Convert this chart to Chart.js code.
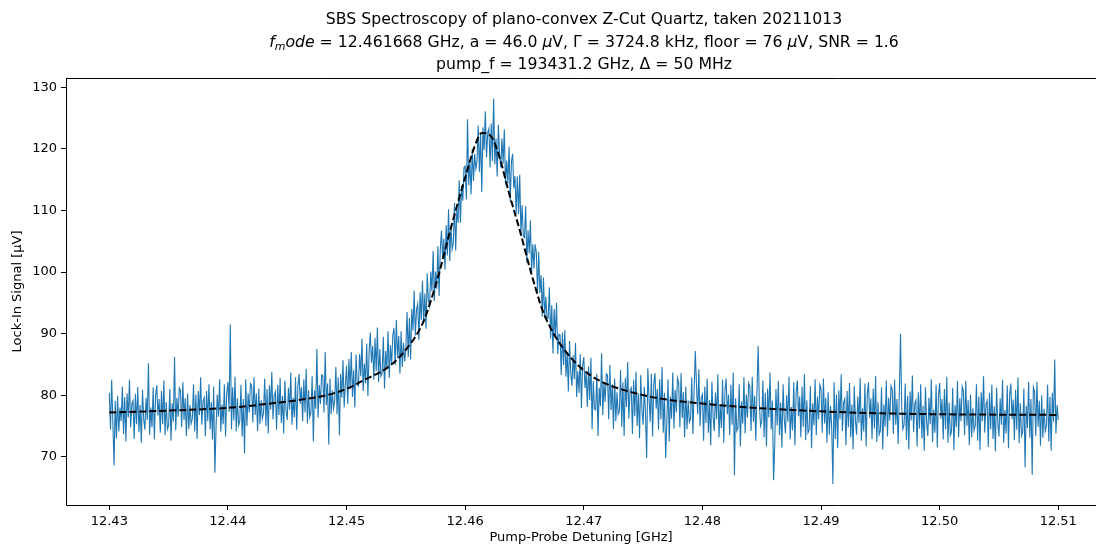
<!DOCTYPE html>
<html>
<head>
<meta charset="utf-8">
<script src="https://cdn.jsdelivr.net/npm/chart.js@4"></script>
<style>
  body { margin: 0; background: #fff; overflow: hidden; }
  #wrap { position: relative; width: 1096px; height: 545px; }
  #title {
    position: absolute; left: 66px; width: 1036px; top: 8px;
    font-family: "DejaVu Sans", sans-serif; font-size: 15.7px; line-height: 22.5px;
    text-align: center; color: #000;
  }
  #title sub { font-size: 11px; vertical-align: -3px; line-height: 0; }
</style>
</head>
<body>
<div id="wrap">
  <canvas id="myChart" width="1096" height="545"></canvas>
  <div id="title">
    SBS Spectroscopy of plano-convex Z-Cut Quartz, taken 20211013<br>
    <i>f</i><sub><i>m</i></sub><i>ode</i> = 12.461668 GHz, a = 46.0 <i>μ</i>V, Γ = 3724.8 kHz, floor = 76 <i>μ</i>V, SNR = 1.6<br>
    pump_f = 193431.2 GHz, Δ = 50 MHz
  </div>
</div>
<script>
// sweep: 801 points, 12.430 .. 12.510 GHz
const sweepStart = 12.43;
const sweepStop = 12.51;

// lock-in signal [uV], one row per 1 MHz
const signal = [
  80.4, 74.4, 82.5, 75.6, 68.6, 79.1, 73.0, 79.9, 74.1, 78.0,
  75.8, 81.4, 73.7, 79.7, 72.5, 80.3, 76.4, 82.5, 74.8, 78.6,
  79.1, 72.9, 80.2, 75.3, 81.3, 74.0, 78.4, 72.3, 80.9, 76.1,
  74.4, 79.6, 76.0, 85.2, 73.6, 78.0, 74.8, 81.3, 72.8, 79.9,
  81.6, 76.7, 79.4, 73.9, 80.7, 75.3, 82.4, 73.5, 78.9, 74.5,
  75.1, 81.0, 72.6, 78.7, 75.7, 86.2, 74.3, 79.6, 76.5, 81.2,
  80.8, 74.8, 82.1, 76.0, 79.5, 73.4, 80.3, 74.5, 78.4, 75.4,
  76.2, 81.8, 74.1, 80.1, 72.9, 80.7, 76.8, 82.9, 75.2, 79.0,
  79.6, 73.4, 80.7, 75.8, 81.8, 74.5, 78.9, 72.8, 81.4, 67.4,
  74.9, 80.1, 76.5, 82.6, 74.1, 78.5, 75.3, 81.8, 73.3, 80.4,
  82.2, 77.3, 91.5, 74.5, 81.3, 75.9, 83.0, 74.1, 79.5, 75.1,
  75.8, 81.7, 73.3, 79.4, 70.6, 82.6, 75.0, 80.3, 77.2, 81.9,
  81.6, 75.6, 82.9, 76.8, 80.3, 74.2, 81.1, 75.3, 79.2, 76.2,
  77.1, 82.7, 75.0, 81.0, 73.8, 81.6, 77.7, 83.8, 76.1, 79.9,
  80.6, 74.4, 81.7, 76.8, 82.8, 75.5, 79.9, 73.8, 82.4, 77.6,
  76.0, 81.2, 77.6, 83.7, 75.2, 79.6, 76.4, 82.9, 74.4, 81.5,
  83.5, 78.6, 81.3, 75.8, 82.6, 77.2, 84.3, 75.4, 80.8, 76.4,
  77.2, 83.1, 72.5, 80.8, 77.8, 87.5, 76.4, 81.7, 78.6, 83.3,
  83.2, 77.2, 87.0, 78.4, 81.9, 72.0, 82.7, 76.9, 80.8, 77.8,
  79.0, 84.6, 76.9, 82.9, 73.5, 83.5, 79.6, 85.7, 78.0, 81.8,
  84.8, 78.6, 85.9, 81.0, 87.0, 79.7, 84.1, 78.0, 86.6, 81.8,
  81.5, 86.7, 83.1, 89.2, 80.7, 85.1, 81.9, 88.4, 79.9, 87.0,
  90.2, 85.3, 88.0, 82.5, 89.3, 83.9, 91.0, 82.1, 87.5, 83.1,
  83.6, 89.5, 81.1, 87.2, 84.2, 90.4, 82.8, 88.1, 85.0, 89.7,
  90.9, 84.9, 92.2, 86.1, 89.6, 83.5, 90.4, 84.6, 88.5, 85.5,
  87.5, 93.5, 86.2, 92.6, 85.8, 94.0, 90.5, 97.0, 89.7, 93.9,
  94.8, 89.0, 96.7, 92.2, 98.6, 91.7, 96.5, 90.8, 99.8, 95.4,
  94.5, 100.1, 96.9, 103.4, 95.3, 100.1, 97.3, 104.2, 96.1, 103.6,
  106.7, 102.3, 105.4, 100.4, 107.6, 102.7, 110.2, 101.8, 107.6, 103.7,
  104.6, 111.2, 103.5, 110.3, 108.0, 114.9, 108.0, 114.0, 111.6, 117.0,
  117.2, 111.8, 124.8, 114.1, 118.1, 112.6, 120.0, 114.8, 119.2, 116.8,
  118.0, 123.8, 116.3, 122.5, 113.0, 123.5, 119.8, 126.1, 118.6, 122.6,
  123.3, 117.0, 124.1, 118.0, 128.2, 117.5, 121.7, 115.5, 123.9, 119.0,
  117.0, 121.7, 117.6, 123.2, 114.2, 118.1, 114.4, 120.4, 111.4, 118.0,
  119.2, 113.6, 115.6, 109.4, 115.5, 109.4, 115.8, 106.2, 110.9, 105.8,
  105.6, 110.7, 101.5, 106.8, 103.0, 108.4, 100.0, 104.5, 100.6, 104.5,
  103.2, 96.6, 103.3, 96.6, 99.5, 92.8, 99.1, 92.7, 96.0, 92.4,
  92.5, 97.5, 89.2, 94.6, 86.8, 94.0, 89.5, 95.0, 86.7, 89.9,
  89.8, 83.3, 90.2, 84.9, 90.6, 83.0, 87.0, 80.6, 88.8, 83.7,
  81.5, 86.5, 82.6, 88.5, 79.7, 83.9, 80.4, 86.7, 77.9, 84.8,
  86.2, 81.2, 83.7, 78.1, 84.7, 79.2, 86.1, 74.5, 82.3, 77.8,
  77.6, 83.5, 73.4, 81.2, 78.2, 86.8, 76.8, 82.1, 78.9, 83.5,
  83.3, 76.1, 84.9, 77.6, 81.8, 74.5, 82.7, 75.8, 80.5, 76.9,
  77.4, 84.1, 74.9, 82.1, 73.4, 82.8, 78.1, 85.4, 76.2, 80.8,
  81.2, 73.7, 82.5, 76.6, 83.8, 75.0, 80.3, 73.0, 83.3, 77.6,
  75.2, 81.4, 77.1, 69.8, 84.4, 79.5, 75.7, 83.5, 73.3, 81.8,
  83.6, 77.8, 81.0, 74.4, 82.6, 76.1, 84.6, 73.9, 80.4, 69.8,
  75.5, 82.6, 72.5, 79.8, 76.2, 83.7, 74.6, 80.9, 77.2, 82.8,
  82.0, 74.8, 83.6, 76.3, 80.5, 73.2, 81.4, 74.5, 79.2, 75.6,
  76.2, 82.9, 73.7, 80.9, 87.2, 81.6, 76.9, 84.2, 75.0, 79.6,
  80.1, 72.6, 81.4, 75.5, 82.7, 73.9, 79.2, 71.9, 82.2, 76.5,
  74.2, 80.4, 76.1, 83.4, 73.2, 78.5, 74.7, 82.5, 72.3, 80.8,
  82.7, 76.9, 80.1, 73.5, 81.7, 75.2, 83.7, 67.0, 79.5, 74.2,
  74.7, 81.8, 71.7, 79.0, 75.4, 82.9, 73.8, 80.1, 76.4, 82.0,
  81.4, 74.2, 83.0, 75.7, 79.9, 72.6, 80.8, 88.0, 78.6, 75.0,
  75.7, 82.4, 73.2, 80.4, 71.7, 81.1, 76.4, 83.7, 74.5, 79.1,
  66.2, 72.2, 81.0, 75.1, 82.3, 73.5, 78.8, 71.5, 81.8, 76.1,
  73.8, 80.0, 75.7, 83.0, 72.8, 78.1, 74.3, 82.1, 71.9, 80.4,
  82.4, 76.6, 79.8, 73.2, 81.4, 74.9, 83.4, 72.7, 79.2, 73.9,
  74.4, 81.5, 71.4, 78.7, 75.1, 82.6, 73.5, 79.8, 76.1, 81.7,
  81.1, 73.9, 82.7, 75.4, 79.6, 72.3, 80.5, 73.6, 78.3, 74.7,
  65.6, 82.1, 72.9, 80.1, 71.4, 80.8, 76.1, 83.4, 74.2, 78.8,
  79.4, 71.9, 80.7, 74.8, 82.0, 73.2, 78.5, 71.2, 81.5, 75.8,
  73.6, 79.8, 75.5, 82.8, 72.6, 77.9, 74.1, 81.9, 71.7, 80.2,
  82.1, 76.3, 79.5, 72.9, 81.1, 74.6, 83.1, 72.4, 78.9, 73.6,
  74.2, 81.3, 71.2, 78.5, 74.9, 82.4, 73.3, 79.6, 75.9, 81.5,
  80.9, 73.7, 82.5, 75.2, 79.4, 72.1, 80.3, 90.0, 78.1, 74.5,
  75.2, 81.9, 72.7, 79.9, 71.2, 80.6, 75.9, 83.2, 74.0, 78.6,
  79.2, 71.7, 80.5, 74.6, 81.8, 73.0, 78.3, 71.0, 81.3, 75.6,
  73.4, 79.6, 75.3, 82.6, 72.4, 77.7, 73.9, 81.7, 71.5, 80.0,
  82.0, 76.2, 79.4, 72.8, 81.0, 74.5, 83.0, 72.3, 78.8, 73.5,
  74.1, 81.2, 71.1, 78.4, 74.8, 82.3, 73.2, 79.5, 75.8, 81.4,
  80.7, 73.5, 82.3, 75.0, 79.2, 71.9, 80.1, 73.2, 77.9, 74.3,
  75.1, 81.8, 72.6, 79.8, 71.1, 80.5, 75.8, 83.1, 73.9, 78.5,
  79.1, 71.6, 80.4, 74.5, 81.7, 72.9, 78.2, 70.9, 81.2, 75.5,
  73.3, 79.5, 75.2, 82.5, 72.3, 77.6, 73.8, 81.6, 71.4, 79.9,
  81.9, 76.1, 79.3, 72.7, 80.9, 74.4, 82.9, 72.2, 78.7, 73.4,
  74.0, 81.1, 68.3, 78.3, 74.7, 82.2, 73.1, 79.4, 67.1, 81.3,
  80.6, 73.4, 82.2, 74.9, 79.1, 71.8, 80.0, 73.1, 77.8, 74.2,
  75.0, 81.7, 72.5, 79.7, 71.0, 80.4, 75.7, 85.8, 73.8, 78.4,
  76.0
];

// lorentzian fit
const fitFreq = [
  12.4300, 12.4350, 12.4403, 12.4442, 12.4459, 12.4485, 12.4502, 12.4513,
  12.4536, 12.4550, 12.4564, 12.4571, 12.4578, 12.4585, 12.4592, 12.4601,
  12.4608, 12.4614, 12.4622, 12.4629, 12.4637, 12.4646, 12.4654, 12.4661,
  12.4665, 12.4674, 12.4686, 12.4699, 12.4714, 12.4742, 12.4770, 12.4798,
  12.4826, 12.4898, 12.4968, 12.5100
];
const fitSignal = [
  77.2, 77.5, 78.0, 78.8, 79.2, 80.1, 81.2, 82.3,
  84.7, 87.4, 91.6, 95.3, 99.8, 105.0, 110.0, 116.0,
  120.4, 122.6, 122.0, 118.6, 112.8, 106.8, 101.0, 96.3,
  93.9, 90.2, 86.8, 84.2, 82.3, 80.4, 79.3, 78.7,
  78.2, 77.4, 77.0, 76.8
];

const xTicks = [12.43, 12.44, 12.45, 12.46, 12.47, 12.48, 12.49, 12.50, 12.51];
const yTicks = [70, 80, 90, 100, 110, 120, 130];

const step = (sweepStop - sweepStart) / (signal.length - 1);
const signalPoints = signal.map((v, i) => ({ x: sweepStart + i * step, y: v }));
const fitPoints = fitFreq.map((f, i) => ({ x: f, y: fitSignal[i] }));

const tickFont = { family: "DejaVu Sans", size: 13 };

// left, top and bottom spines like the matplotlib box
const spines = {
  id: "spines",
  afterDraw(c) {
    const a = c.chartArea;
    const g = c.ctx;
    g.save();
    g.strokeStyle = "#000";
    g.lineWidth = 1;
    g.beginPath();
    g.moveTo(a.left + 0.5, a.top + 0.5);
    g.lineTo(1096, a.top + 0.5);
    g.moveTo(a.left + 0.5, a.top);
    g.lineTo(a.left + 0.5, a.bottom + 0.5);
    g.lineTo(1096, a.bottom + 0.5);
    g.stroke();
    g.restore();
  },
};

const ctx = document.getElementById("myChart");

new Chart(ctx, {
  type: "line",
  data: {
    datasets: [
      {
        data: fitPoints,
        borderColor: "#000",
        borderWidth: 2,
        borderDash: [7, 3],
        pointRadius: 0,
        cubicInterpolationMode: "monotone",
        order: 0,
      },
      {
        data: signalPoints,
        borderColor: "#1f77b4",
        borderWidth: 1.1,
        pointRadius: 0,
        tension: 0,
        order: 1,
      },
    ],
  },
  options: {
    responsive: false,
    animation: false,
    layout: { padding: { top: 78, right: 0, left: 0, bottom: 0 } },
    plugins: { legend: { display: false }, tooltip: { enabled: false } },
    scales: {
      x: {
        type: "linear",
        min: 12.42635,
        max: 12.51318,
        afterBuildTicks: (ax) => { ax.ticks = xTicks.map((v) => ({ value: v })); },
        afterFit: (s) => { s.height = 40; },
        ticks: {
          callback: (v) => v.toFixed(2),
          font: tickFont, color: "#000", padding: 4,
          maxRotation: 0, autoSkip: false,
        },
        grid: { drawOnChartArea: false, tickLength: 5, color: "#000" },
        border: { display: false },
        title: {
          display: true, text: "Pump-Probe Detuning [GHz]",
          font: tickFont, color: "#000", padding: { top: 0, bottom: 0 },
        },
      },
      y: {
        min: 62.18,
        max: 131.51,
        afterBuildTicks: (ax) => { ax.ticks = yTicks.map((v) => ({ value: v })); },
        afterFit: (s) => { s.width = 66; },
        ticks: { font: tickFont, color: "#000", padding: 4 },
        grid: { drawOnChartArea: false, tickLength: 5, color: "#000" },
        border: { display: false },
        title: {
          display: true, text: "Lock-In Signal [μV]",
          font: tickFont, color: "#000", padding: { top: 10, bottom: 0 },
        },
      },
    },
  },
  plugins: [spines],
});
</script>
</body>
</html>
